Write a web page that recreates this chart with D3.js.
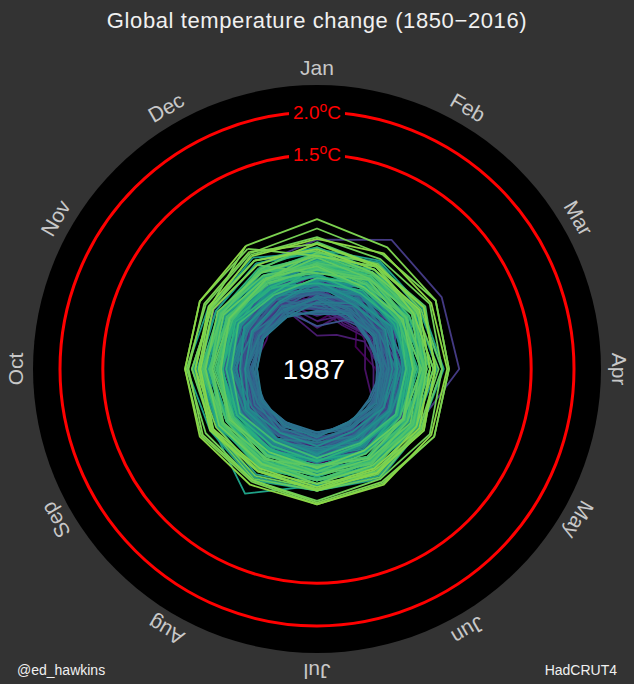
<!DOCTYPE html>
<html><head><meta charset="utf-8">
<script src="https://cdn.jsdelivr.net/npm/d3@7"></script>
<style>html,body{margin:0;padding:0;background:#333333;} svg{display:block}</style>
</head><body><svg id="c" width="634" height="684"></svg>
<script>
const months = ["Jan","Feb","Mar","Apr","May","Jun","Jul","Aug","Sep","Oct","Nov","Dec"];
const firstYear = 1850, shownYear = 1987, colourEndYear = 2016;
const ringValues = [1.5, 2.0];
const ringLabels = ["1.5", "2.0"];
const titleText = "Global temperature change (1850\u22122016)";
const creditLeft = "@ed_hawkins", creditRight = "HadCRUT4";
// Monthly global temperature anomalies, hundredths of a degree C, one row per year 1850..1987 (Jan..Dec)
const anomalies = [
[-45,-4,-48,-31,-8,4,13,1,-19,-20,6,-1],
[-7,-17,-16,-31,-3,9,11,15,11,14,10,17],
[7,-2,-11,-20,-7,13,11,4,8,3,-5,24],
[11,-14,3,-16,-3,6,0,5,-9,-18,-10,21],
[-11,-16,-2,-14,-5,4,0,2,-6,-3,-18,21],
[-25,-36,0,-8,2,8,7,10,1,-1,-6,-12],
[-4,-28,-18,-9,-2,0,2,3,-10,-14,-23,18],
[-10,-20,-35,-44,-25,-17,-12,-16,-22,-24,-32,-7],
[-28,-41,-30,-17,-9,-1,-2,-5,-8,-4,-20,-3],
[12,-18,8,-14,0,-1,-8,-6,-12,1,-17,19],
[-16,-39,-26,-12,-10,-8,-5,-3,-12,-9,-20,-8],
[-52,-20,-24,-29,-18,-8,0,-2,-15,-12,-23,-13],
[-61,-54,-36,-26,-18,-14,-16,-20,-18,-24,-28,-21],
[9,-2,-18,-16,-10,-12,-8,-11,-14,-16,-14,-8],
[-44,-26,-30,-34,-24,-16,-10,-14,-22,-30,-26,-24],
[-11,-36,-26,-14,-4,-3,0,-2,-4,-1,-6,-1],
[6,-1,-24,-18,-10,0,2,-3,-6,-8,-4,6],
[2,4,-32,-14,-16,-3,-2,-6,-4,-6,-10,-9],
[-38,-16,-11,-10,-6,0,4,-2,-4,-5,-10,2],
[0,12,-18,-6,-4,-3,-5,-2,-4,0,-9,3],
[-2,-21,-14,-8,-5,-1,-3,-4,-10,-12,-8,-8],
[-31,-33,-3,-4,-6,-4,-3,-4,-12,-11,-8,-13],
[-16,-6,-4,0,-1,0,-2,0,2,0,-2,5],
[2,-12,-9,-10,-14,-8,-4,-5,-8,-9,-6,-1],
[6,-16,-20,-18,-16,-12,-10,-10,-12,-16,-20,-24],
[-18,-26,-28,-20,-12,-14,-10,-12,-14,-18,-18,-14],
[-10,-16,-18,-20,-14,-16,-12,-10,-8,-10,-12,-10],
[-1,6,4,12,14,18,24,28,34,36,39,40],
[51,74,68,66,34,24,16,16,14,12,4,-6],
[-12,-14,-6,-4,-3,0,-2,0,-4,0,-4,13],
[8,-2,2,-8,-4,-10,-4,6,-2,-2,4,12],
[-4,0,8,10,10,4,6,4,0,2,8,12],
[16,12,4,-6,-10,-8,-4,-2,-4,-6,-2,-2],
[-14,-18,-8,0,2,4,2,-2,-6,-2,-4,-2],
[-10,-12,-20,-24,-22,-20,-18,-16,-18,-20,-18,-18],
[-30,-16,-14,-16,-12,-14,-10,-12,-14,-14,-14,-14],
[-20,-16,-18,-12,-6,-10,-4,-7,-9,-14,-10,-6],
[-28,-24,-16,-20,-12,-8,-10,-14,-16,-18,-12,-14],
[-22,-12,-16,-2,-4,2,4,0,-4,2,0,4],
[-2,16,10,14,8,2,6,2,0,8,4,4],
[-8,-14,-24,-16,-22,-18,-20,-18,-26,-18,-24,-20],
[-26,-18,-12,-16,-8,-12,-4,-10,-8,-14,-6,-10],
[-10,-20,-30,-24,-24,-18,-16,-24,-18,-22,-26,-20],
[-50,-34,-20,-22,-16,-14,-18,-12,-20,-18,-18,-22],
[-22,-10,-18,-20,-14,-20,-12,-18,-22,-14,-16,-18],
[-28,-30,-14,-10,-12,-8,-12,-6,-8,-16,-12,-12],
[-8,0,-4,4,6,2,10,2,6,8,4,6],
[-4,4,6,0,4,-2,4,-2,2,0,-4,4],
[2,-14,-20,-12,-16,-10,-14,-10,-16,-18,-12,-4],
[-10,-14,-4,-4,2,-4,2,0,6,8,12,6],
[-2,12,6,8,4,10,6,8,6,12,4,10],
[8,-4,10,0,2,-4,0,-4,0,-6,2,-4],
[4,-6,-8,-14,-12,-16,-10,-16,-12,-16,-20,-18],
[-6,-2,-18,-18,-24,-22,-26,-22,-26,-22,-26,-28],
[-34,-24,-30,-28,-22,-28,-22,-26,-20,-24,-28,-26],
[-22,-32,-12,-16,-10,-12,-6,-10,-4,-12,-2,-6],
[-12,-8,-2,-6,-2,-8,0,-4,-6,-2,-4,-6],
[-28,-22,-24,-18,-26,-20,-24,-18,-24,-18,-26,-16],
[-16,-26,-24,-30,-22,-28,-22,-28,-24,-30,-26,-24],
[-36,-26,-32,-24,-30,-24,-26,-22,-28,-24,-28,-24],
[-16,-22,-20,-24,-18,-26,-22,-26,-22,-28,-22,-30],
[-32,-24,-30,-22,-28,-26,-22,-28,-24,-26,-22,-28],
[-14,-20,-16,-22,-16,-22,-26,-28,-20,-18,-22,-16],
[-24,-16,-24,-18,-16,-22,-16,-20,-16,-20,-14,-22],
[-16,-4,-10,-2,-4,2,-4,2,-2,4,2,8],
[0,10,4,10,6,4,10,4,8,4,2,10],
[0,-12,-10,-16,-14,-20,-16,-14,-20,-16,-22,-20],
[-18,-28,-22,-26,-20,-28,-20,-24,-26,-30,-28,-30],
[-22,-12,-16,-8,-14,-10,-14,-6,-12,-4,-14,-12],
[0,-10,-2,-8,-4,-10,-2,-6,-8,-2,-8,0],
[2,-8,0,-6,0,-8,-2,-4,-6,0,-6,2],
[12,0,8,2,6,-2,4,2,6,0,4,6],
[2,-8,0,-6,-10,-2,-8,-2,-4,-6,-2,-2],
[-8,0,-6,-2,-4,2,-6,0,-2,4,-4,2],
[2,-6,0,-8,0,-6,-2,-4,-8,0,-4,0],
[-6,2,-4,4,0,6,2,0,6,4,10,12],
[24,14,20,12,16,10,14,12,16,12,14,16],
[8,0,6,2,8,-2,4,6,2,6,2,6],
[10,4,2,6,0,8,2,0,4,6,2,4],
[-2,-14,-8,-12,-10,-16,-10,-14,-8,-16,-12,-10],
[4,10,2,12,6,12,8,14,6,12,4,18],
[20,10,18,12,16,20,14,12,18,12,16,12],
[18,8,14,6,10,4,8,10,6,12,4,8],
[2,-8,0,-6,-2,-8,0,-6,-4,-10,-2,-4],
[6,14,8,16,10,14,8,16,10,14,12,16],
[10,2,8,0,6,2,8,4,6,2,8,4],
[4,12,6,14,8,12,6,10,8,14,10,16],
[14,24,16,26,18,24,20,26,22,28,20,26],
[28,20,30,22,28,24,22,28,20,30,24,24],
[26,18,24,20,24,18,24,20,22,26,24,30],
[30,38,34,40,32,40,36,42,34,40,36,42],
[36,44,38,46,40,48,42,46,40,44,42,50],
[36,30,34,26,32,28,34,30,32,28,30,32],
[26,34,30,36,32,38,30,34,32,38,36,42],
[40,46,42,48,40,44,42,50,44,52,46,46],
[42,30,34,24,28,24,36,68,40,34,30,24],
[26,18,22,14,20,12,18,14,18,16,20,18],
[16,24,18,26,20,24,18,26,20,24,22,26],
[20,12,16,10,18,12,16,10,14,12,18,10],
[18,10,16,12,18,10,14,12,16,14,18,10],
[0,6,4,10,6,12,6,10,8,12,6,16],
[8,14,12,18,16,22,18,22,20,24,20,22],
[30,22,28,24,28,22,26,24,28,24,26,30],
[36,30,38,32,36,30,34,30,34,32,30,34],
[18,10,14,8,16,10,14,8,14,10,12,10],
[16,8,14,6,12,10,14,8,12,10,14,8],
[10,2,8,4,8,2,8,4,8,6,10,2],
[20,28,24,32,26,34,30,34,30,34,32,36],
[42,34,36,28,32,26,30,28,30,24,32,30],
[34,24,30,26,30,24,30,26,28,24,28,32],
[16,24,18,24,20,26,20,24,22,26,20,24],
[26,34,30,36,30,34,28,32,28,32,28,34],
[32,24,30,26,32,24,30,26,28,24,30,30],
[22,30,24,32,28,32,28,34,30,36,32,32],
[18,8,12,4,6,0,4,-2,4,0,6,0],
[6,14,10,16,12,18,12,16,12,18,14,20],
[24,16,22,14,22,18,24,16,20,16,22,14],
[18,26,20,28,22,26,20,28,22,26,20,20],
[12,20,14,22,16,20,14,18,14,20,16,18],
[24,30,28,32,28,34,30,32,28,34,28,32],
[34,28,32,24,30,26,30,24,28,24,30,26],
[22,14,20,12,18,14,20,16,20,14,18,16],
[16,22,20,26,22,28,24,30,26,32,28,34],
[48,40,46,38,44,38,42,36,42,38,40,40],
[12,20,14,22,16,20,14,22,16,22,18,20],
[30,22,28,20,26,22,24,20,26,22,26,22],
[20,10,16,12,16,10,16,12,18,12,18,20],
[36,42,40,46,40,46,42,48,42,46,42,46],
[38,30,36,28,34,30,34,28,32,30,34,30],
[32,38,34,42,38,42,40,44,40,46,42,54],
[54,48,52,46,52,48,54,50,50,52,50,56],
[64,54,60,54,58,54,58,52,56,54,58,62],
[32,38,30,36,34,40,34,38,36,42,44,66],
[75,64,60,54,58,52,56,50,54,50,52,58],
[46,38,44,38,42,36,40,38,42,38,44,46],
[40,34,38,32,38,34,38,34,40,36,40,40],
[46,40,44,38,44,40,42,38,44,42,46,52],
[52,56,54,52,54,56,58,56,58,54,58,66]
];

const W = 634, H = 684, cx = 317, cy = 369;
const font = "'Liberation Sans', Arial, Helvetica, sans-serif";
const svg = d3.select("#c");
svg.append("rect").attr("width", W).attr("height", H).attr("fill", "#333333");

const r = d3.scaleLinear().domain([-1, 2]).range([0, 257]);
const ang = d3.scaleLinear().domain([0, 12]).range([0, 2 * Math.PI]);
const color = d3.scaleSequential(d3.interpolateViridis).domain([firstYear, colourEndYear]);

const g = svg.append("g").attr("transform", `translate(${cx},${cy})`);
g.append("circle").attr("r", 284).attr("fill", "#000");

// red rings
g.selectAll("circle.ring").data(ringValues).join("circle")
  .attr("class", "ring").attr("r", d => r(d))
  .attr("fill", "none").attr("stroke", "#ff0000").attr("stroke-width", 3);

// spiral
const line = d3.lineRadial().angle(d => ang(d.m)).radius(d => r(d.v)).curve(d3.curveLinear);
const dataG = g.append("g");
anomalies.forEach((row, i) => {
  const year = firstYear + i;
  const pts = row.map((v, m) => ({ m, v: v / 100 }));
  if (i > 0) pts.unshift({ m: -1, v: anomalies[i - 1][11] / 100 });
  dataG.append("path").attr("d", line(pts))
    .attr("fill", "none").attr("stroke", color(year))
    .attr("stroke-width", 1.8).attr("stroke-linejoin", "round");
});

// ring labels
ringValues.forEach((v, i) => {
  const lg = g.append("g");
  const t = lg.append("text").attr("x", 0).attr("y", -r(v) + 6.5)
    .attr("text-anchor", "middle").attr("fill", "#ff0000")
    .style("font-family", font).style("font-size", "19px");
  t.append("tspan").text(ringLabels[i]);
  t.append("tspan").attr("dy", -7).style("font-size", "14px").text("o");
  t.append("tspan").attr("dy", 7).text("C");
  const bb = t.node().getBBox();
  lg.insert("rect", "text").attr("x", bb.x - 4).attr("y", -r(v) - 4).attr("width", bb.width + 8).attr("height", 8).attr("fill", "#000");
});

// month labels
g.selectAll("text.month").data(months).join("text")
  .attr("class", "month")
  .attr("transform", (d, i) => `rotate(${i * 30}) translate(0,${-302})`)
  .attr("text-anchor", "middle").attr("dominant-baseline", "central")
  .attr("fill", "#c8c8c8")
  .style("font-family", font).style("font-size", "21px")
  .text(d => d);

// centre year
g.append("text").attr("x", -3).attr("y", 10).attr("text-anchor", "middle")
  .attr("fill", "#fff").style("font-family", font).style("font-size", "28px")
  .text(shownYear);

// title & credits
svg.append("text").attr("x", 317).attr("y", 28).attr("text-anchor", "middle")
  .attr("fill", "#f0f0f0").style("font-family", font).style("font-size", "22px")
  .style("letter-spacing", "0.6px")
  .text(titleText);
svg.append("text").attr("x", 17).attr("y", 675)
  .attr("fill", "#f0f0f0").style("font-family", font).style("font-size", "14px")
  .text(creditLeft);
svg.append("text").attr("x", 617).attr("y", 675).attr("text-anchor", "end")
  .attr("fill", "#f0f0f0").style("font-family", font).style("font-size", "14px")
  .text(creditRight);
</script>
</body></html>
